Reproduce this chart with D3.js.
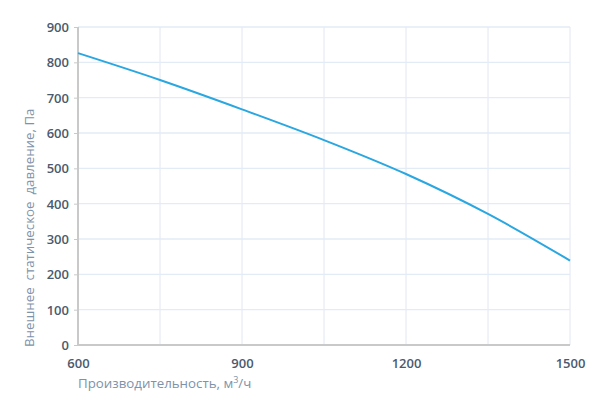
<!DOCTYPE html>
<html>
<head>
<meta charset="utf-8">
<script src="https://cdn.jsdelivr.net/npm/d3@7"></script>
<style>
  body { margin: 0; background: #fff; }
  text { font-family: "Open Sans", sans-serif; }
</style>
</head>
<body>
<script>
// Chart values.
var flow = [600, 750, 900, 1050, 1200, 1350, 1500];
var pressure = [826, 750, 667, 580, 484, 371, 239];
var x_ticks = [600, 900, 1200, 1500];
var x_grid = [600, 750, 900, 1050, 1200, 1350, 1500];
var y_ticks = [0, 100, 200, 300, 400, 500, 600, 700, 800, 900];

var svg_width = 603;
var svg_height = 407;
var margin = { top: 27, right: 33, bottom: 62, left: 78 };
var chartWidth = svg_width - margin.left - margin.right;
var chartHeight = svg_height - margin.top - margin.bottom;

var svg = d3.select("body")
    .append("svg")
    .attr("width", svg_width)
    .attr("height", svg_height);

var g = svg.append("g")
    .attr("transform", "translate(" + margin.left + "," + margin.top + ")");

var x = d3.scaleLinear().domain([600, 1500]).range([0, chartWidth]);
var y = d3.scaleLinear().domain([0, 900]).range([chartHeight, 0]);

// Grid lines first.
g.append("g")
    .selectAll("line")
    .data(x_grid)
    .enter()
    .append("line")
    .attr("x1", function (d) { return x(d); })
    .attr("x2", function (d) { return x(d); })
    .attr("y1", 0)
    .attr("y2", chartHeight)
    .attr("stroke", "#dfe8f4")
    .attr("stroke-width", 1);

g.append("g")
    .selectAll("line")
    .data(y_ticks)
    .enter()
    .append("line")
    .attr("x1", 0)
    .attr("x2", chartWidth)
    .attr("y1", function (d) { return y(d); })
    .attr("y2", function (d) { return y(d); })
    .attr("stroke", "#e3ebf5")
    .attr("stroke-width", 1.3);

// Axes.
var yAxis = g.append("g")
    .call(d3.axisLeft(y).tickValues(y_ticks).tickSize(4).tickPadding(5));
var xAxis = g.append("g")
    .attr("transform", "translate(0," + chartHeight + ")")
    .call(d3.axisBottom(x).tickValues(x_ticks).tickFormat(d3.format("d"))
        .tickSize(0).tickPadding(14));

[yAxis, xAxis].forEach(function (a) {
    a.select(".domain").attr("stroke", "#c9c9c9").attr("stroke-width", 2);
    a.selectAll(".tick line").attr("stroke", "#c9c9c9");
    a.selectAll(".tick text")
        .attr("fill", "#4b5a6d")
        .attr("font-size", "13px")
        .attr("font-weight", 600)
        .attr("font-family", "'Open Sans', sans-serif");
});
yAxis.select(".domain").attr("d", "M0," + chartHeight + "V0");
xAxis.select(".domain").attr("d", "M0,0H" + chartWidth);
yAxis.selectAll(".tick text").attr("dy", "0.35em");

// The curve.
var line = d3.line()
    .x(function (d, i) { return x(flow[i]); })
    .y(function (d) { return y(d); })
    .curve(d3.curveMonotoneX);

g.append("path")
    .datum(pressure)
    .attr("d", line)
    .attr("fill", "none")
    .attr("stroke", "#2aa7e0")
    .attr("stroke-width", 2);

// Axis titles.
var xt = svg.append("text")
    .attr("x", margin.left)
    .attr("y", 388)
    .attr("fill", "#7e92a9")
    .attr("font-size", "13.3px");
xt.append("tspan").text("Производительность, м");
xt.append("tspan").attr("dy", "-5").attr("font-size", "9px").text("3");
xt.append("tspan").attr("dy", "5").text("/ч");

svg.append("text")
    .attr("transform", "translate(34,347) rotate(-90)")
    .attr("text-anchor", "start")
    .attr("fill", "#7e92a9")
    .attr("font-size", "13.3px")
    .attr("xml:space", "preserve")
    .style("white-space", "pre")
    .text("Внешнее  статическое  давление, Па");
</script>
</body>
</html>
